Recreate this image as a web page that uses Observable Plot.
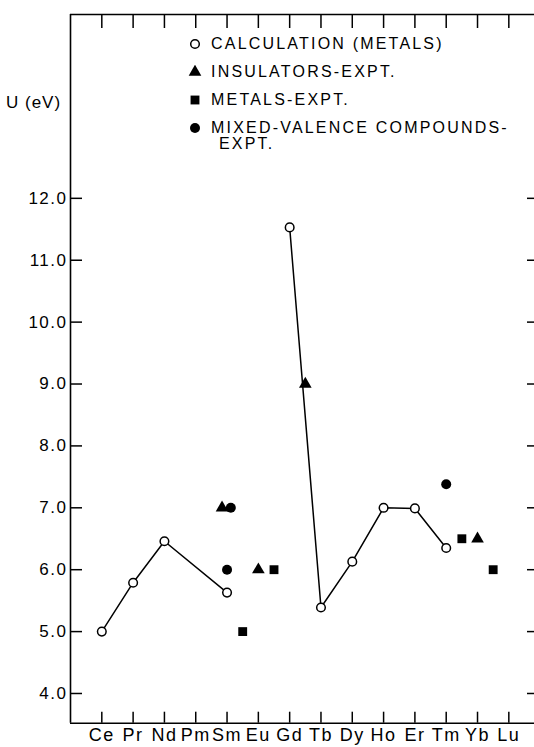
<!DOCTYPE html>
<html>
<head>
<meta charset="utf-8">
<script src="https://cdn.jsdelivr.net/npm/d3@7"></script>
<script src="https://cdn.jsdelivr.net/npm/@observablehq/plot@0.6"></script>
<style>
  body { margin: 0; background: #fff; }
  #wrap { position: relative; width: 534px; height: 747px; overflow: hidden; font-family: "Liberation Sans", Arial, sans-serif; color: #000; }
  #wrap svg text { letter-spacing: 1.5px; }
  .legend { position: absolute; left: 188px; top: 0; font-size: 16px; letter-spacing: 2.2px; line-height: 1; }
  .legend .row { position: absolute; left: 0; white-space: nowrap; display: flex; align-items: center; }
  .legend .row svg { width: 14px; height: 14px; margin-right: 9px; }
  .ylabel { position: absolute; left: 6px; font-size: 17px; letter-spacing: 1px; white-space: nowrap; }
</style>
</head>
<body>
<div id="wrap"></div>
<script>
// Categories (lanthanide series) and axis ticks
const elements = ["Ce","Pr","Nd","Pm","Sm","Eu","Gd","Tb","Dy","Ho","Er","Tm","Yb","Lu"];
const yTicks = [4, 5, 6, 7, 8, 9, 10, 11, 12];

// Calculation (metals): open circles joined by lines (two segments)
const calcPos = [0, 1, 2, 4, 6, 7, 8, 9, 10, 11];
const calcU   = [5.0, 5.79, 6.46, 5.63, 11.53, 5.39, 6.13, 7.0, 6.99, 6.35];
const calcSeg = [0, 0, 0, 0, 1, 1, 1, 1, 1, 1];

// Insulators - expt. (filled triangles)
const insulPos = [3.84, 5, 6.5, 12];
const insulU   = [7.0, 6.0, 9.0, 6.5];

// Metals - expt. (filled squares)
const metalPos = [4.5, 5.5, 11.5, 12.5];
const metalU   = [5.0, 6.0, 6.5, 6.0];

// Mixed-valence compounds - expt. (filled circles)
const mixedPos = [4.12, 4.0, 11.0];
const mixedU   = [7.0, 6.0, 7.38];

const legendItems = ["CALCULATION (METALS)", "INSULATORS-EXPT.", "METALS-EXPT.", "MIXED-VALENCE COMPOUNDS-"];

const calc  = calcPos.map((p, i) => ({x: p, u: calcU[i], seg: calcSeg[i]}));
const insul = insulPos.map((p, i) => ({x: p, u: insulU[i]}));
const metal = metalPos.map((p, i) => ({x: p, u: metalU[i]}));
const mixed = mixedPos.map((p, i) => ({x: p, u: mixedU[i]}));

const xDom = [-1, 13.82];
const yDom = [3.52, 14.97];
const idx = d3.range(elements.length);

const chart = Plot.plot({
  width: 534,
  height: 747,
  marginLeft: 70,
  marginRight: 0,
  marginTop: 14,
  marginBottom: 24.3,
  x: {domain: xDom},
  y: {domain: yDom},
  style: {fontFamily: '"Liberation Sans", Arial, sans-serif', fontSize: "17px", color: "#000", background: "#fff"},
  marks: [
    Plot.ruleX([xDom[0]], {stroke: "#000", strokeWidth: 1.6}),
    Plot.ruleY(yDom, {stroke: "#000", strokeWidth: 1.6}),
    Plot.axisY(yTicks, {anchor: "left", tickSize: 0, tickPadding: 3, tickFormat: d => d.toFixed(1), label: null, fontSize: 17}),
    Plot.axisY(yTicks, {anchor: "left", tickSize: -12, tickFormat: () => "", label: null, strokeWidth: 1.5}),
    Plot.axisY(yTicks, {anchor: "right", tickSize: -8, tickFormat: () => "", label: null, strokeWidth: 1.5}),
    Plot.axisX(idx, {anchor: "bottom", tickSize: -11, tickFormat: () => "", label: null, strokeWidth: 1.5}),
    Plot.axisX(idx, {anchor: "bottom", tickSize: 0, tickPadding: 5, tickFormat: i => elements[i], label: null, fontSize: 18}),
    Plot.axisX(idx, {anchor: "top", tickSize: -13, tickFormat: () => "", label: null, strokeWidth: 1.5}),
    Plot.line(calc, {x: "x", y: "u", z: "seg", stroke: "#000", strokeWidth: 1.5}),
    Plot.dot(calc, {x: "x", y: "u", r: 4.3, fill: "#fff", stroke: "#000", strokeWidth: 1.5}),
    Plot.dot(insul, {x: "x", y: "u", symbol: "triangle", r: 4.7, fill: "#000", stroke: "none"}),
    Plot.dot(metal, {x: "x", y: "u", symbol: "square", r: 5.0, fill: "#000", stroke: "none"}),
    Plot.dot(mixed, {x: "x", y: "u", symbol: "circle", r: 5.0, fill: "#000", stroke: "none"})
  ]
});

const wrap = document.getElementById("wrap");
wrap.appendChild(chart);

// Y label
const yl = document.createElement("div");
yl.className = "ylabel";
yl.style.top = "93px";
yl.textContent = "U (eV)";
wrap.appendChild(yl);

// Legend (inside plot area, top)
const symbolSvg = [
  '<svg viewBox="-7 -7 14 14"><circle r="4.3" fill="#fff" stroke="#000" stroke-width="1.5"/></svg>',
  '<svg viewBox="-7 -7 14 14"><path d="' + d3.symbol(d3.symbolTriangle, Math.PI * 4.7 * 4.7)() + '" fill="#000"/></svg>',
  '<svg viewBox="-7 -7 14 14"><path d="' + d3.symbol(d3.symbolSquare, Math.PI * 5 * 5)() + '" fill="#000"/></svg>',
  '<svg viewBox="-7 -7 14 14"><circle r="5" fill="#000"/></svg>'
];
const rowTops = [36, 64, 92, 120];
const legend = document.createElement("div");
legend.className = "legend";
legendItems.forEach((t, i) => {
  const r = document.createElement("div");
  r.className = "row";
  r.style.top = rowTops[i] + "px";
  r.innerHTML = symbolSvg[i] + "<span>" + t + "</span>";
  legend.appendChild(r);
});
const extra = document.createElement("div");
extra.className = "row";
extra.style.top = "136px";
extra.style.left = "31px";
extra.textContent = "EXPT.";
legend.appendChild(extra);
wrap.appendChild(legend);
</script>
</body>
</html>
